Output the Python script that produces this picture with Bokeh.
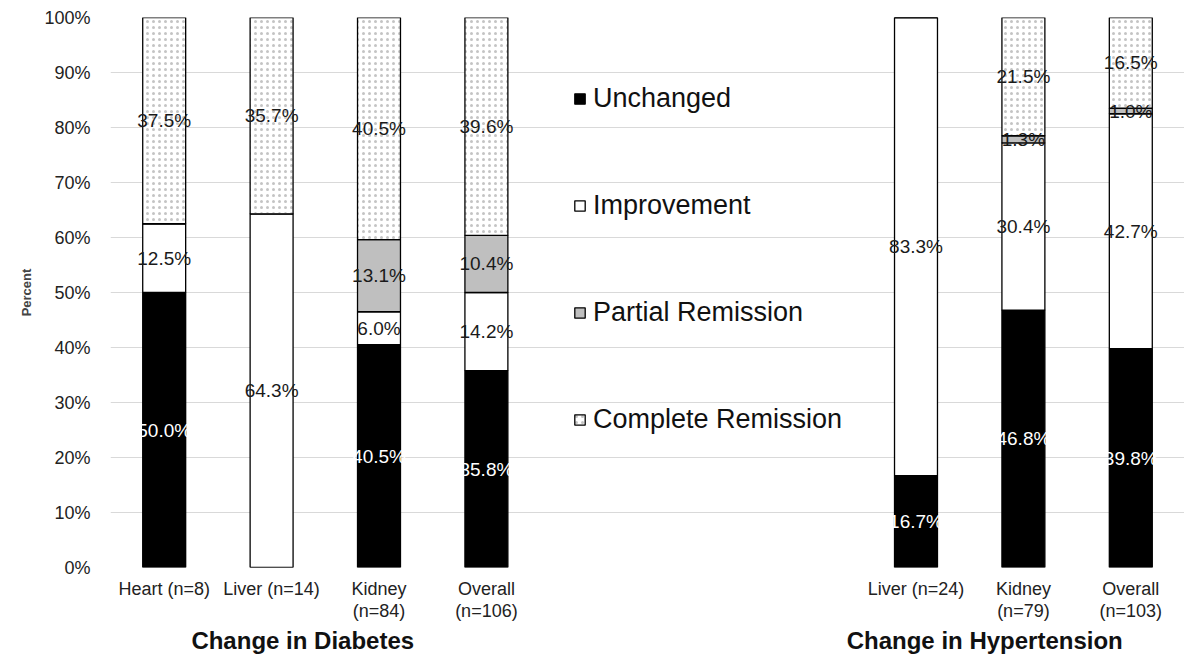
from bokeh.plotting import figure
from bokeh.models import (ColumnDataSource, FixedTicker, Legend, LegendItem, LinearAxis,
                          Range1d, PrintfTickFormatter)
from bokeh.core.properties import value
from bokeh.embed import file_html
from bokeh.resources import INLINE

# ---- data ----
categories = ["Heart (n=8)", "Liver (n=14)", "Kidney\n(n=84)", "Overall\n(n=106)",
              "Liver (n=24)", "Kidney\n(n=79)", "Overall\n(n=103)"]
slots = [0, 1, 2, 3, 7, 8, 9]
unchanged = [50.0, 0.0, 40.5, 35.8, 16.7, 46.8, 39.8]
improvement = [12.5, 64.3, 6.0, 14.2, 83.3, 30.4, 42.7]
partial = [0.0, 0.0, 13.1, 10.4, 0.0, 1.3, 1.0]
complete = [37.5, 35.7, 40.5, 39.6, 0.0, 21.5, 16.5]
series_names = ["Unchanged", "Improvement", "Partial Remission", "Complete Remission"]
group_titles = ["Change in Diabetes", "Change in Hypertension"]
group_pos = [1.29, 7.64]
y_ticks = list(range(0, 101, 10))

FONT = "Liberation Sans"

p = figure(width=1184, height=656, output_backend="svg", toolbar_location=None,
           x_range=Range1d(-0.5, 9.5), y_range=Range1d(0, 100),
           min_border_left=110, min_border_right=0, min_border_top=17, min_border_bottom=88)
p.outline_line_color = None
p.background_fill_color = "white"
p.xgrid.visible = False
p.ygrid.ticker = FixedTicker(ticks=y_ticks)
p.ygrid.grid_line_color = "#d9d9d9"
p.ygrid.grid_line_width = 1

src = ColumnDataSource(dict(x=slots, unchanged=unchanged, improvement=improvement,
                            partial=partial, complete=complete))
keys = ["unchanged", "improvement", "partial", "complete"]
rs = p.vbar_stack(keys, x="x", width=0.4, source=src,
                  fill_color=["#000000", "#ffffff", "#bfbfbf", "#ffffff"],
                  line_color="#000000", line_width=1.3,
                  hatch_pattern=[" ", " ", " ", "."], hatch_color="#c4c4c4",
                  hatch_scale=6, hatch_weight=1)

# value labels (centred in each non-empty segment)
lx, ly, lt, lc = [], [], [], []
for i, s in enumerate(slots):
    base = 0.0
    for k, arr in enumerate([unchanged, improvement, partial, complete]):
        v = arr[i]
        if v > 0:
            lx.append(s)
            ly.append(base + v / 2)
            lt.append("%.1f%%" % v)
            lc.append("#ffffff" if k == 0 else "#1a1a1a")
        base += v
lsrc = ColumnDataSource(dict(x=lx, y=ly, t=lt, c=lc))
p.text(x="x", y="y", text="t", source=lsrc, text_color="c", text_align="center",
       text_baseline="middle", text_font=value(FONT), text_font_size="19px")


def bare(ax):
    ax.axis_line_color = None
    ax.major_tick_line_color = None
    ax.minor_tick_line_color = None
    ax.major_tick_out = 0
    ax.major_tick_in = 0
    ax.minor_tick_out = 0
    ax.minor_tick_in = 0


# y axis
ya = p.yaxis[0]
bare(ya)
ya.ticker = FixedTicker(ticks=y_ticks)
ya.formatter = PrintfTickFormatter(format="%d%%")
ya.major_label_standoff = 20
ya.major_label_text_font = FONT
ya.major_label_text_font_size = "18px"
ya.major_label_text_color = "#222222"
ya.axis_label = "Percent"
ya.axis_label_text_font = FONT
ya.axis_label_text_font_style = "bold"
ya.axis_label_text_font_size = "13px"
ya.axis_label_standoff = 7

# x axis (categories)
xa = p.xaxis[0]
bare(xa)
xa.ticker = FixedTicker(ticks=slots)
xa.major_label_overrides = {s: c for s, c in zip(slots, categories)}
xa.major_label_standoff = 11
xa.major_label_text_font = FONT
xa.major_label_text_font_size = "18px"
xa.major_label_text_color = "#222222"
xa.major_label_text_line_height = 1.1

# group titles axis
ga = LinearAxis(ticker=FixedTicker(ticks=group_pos),
                major_label_overrides={g: t for g, t in zip(group_pos, group_titles)})
bare(ga)
ga.major_label_standoff = 3
ga.major_label_text_font = FONT
ga.major_label_text_font_style = "bold"
ga.major_label_text_font_size = "24px"
ga.major_label_text_color = "#111111"
ga.major_label_text_line_height = 0.8
p.add_layout(ga, "below")

legend = Legend(items=[LegendItem(label=n, renderers=[r]) for n, r in zip(series_names, rs)],
                location=(463, 132), orientation="vertical",
                glyph_width=13, glyph_height=13, label_height=30, spacing=76,
                padding=0, margin=0, border_line_color=None, background_fill_alpha=0,
                label_text_font=FONT, label_text_font_size="27px", label_standoff=7,
                label_text_color="#111111")
p.add_layout(legend)

open("out.html", "w").write(file_html(p, INLINE))
